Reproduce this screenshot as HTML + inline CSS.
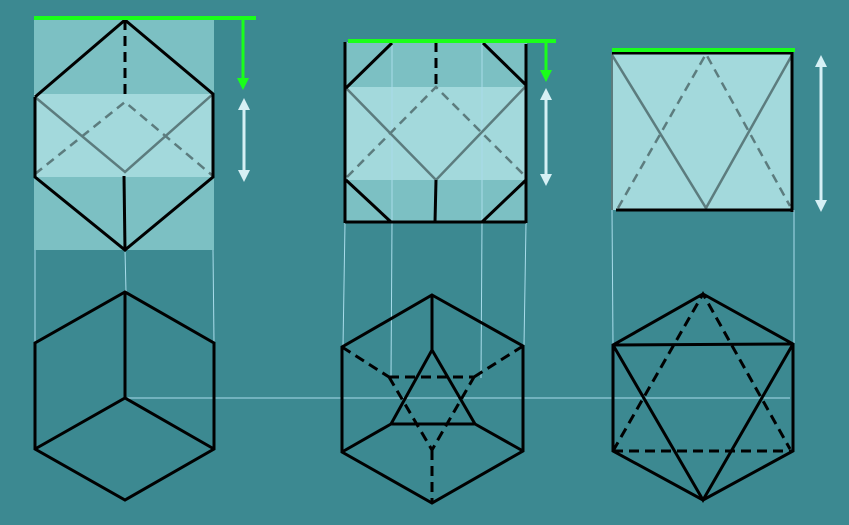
<!DOCTYPE html>
<html><head><meta charset="utf-8"><style>html,body{margin:0;padding:0;background:#3c8991;}svg{display:block}</style></head>
<body>
<svg width="849" height="525" viewBox="0 0 849 525" xmlns="http://www.w3.org/2000/svg">
<defs>
<marker id="ga" markerWidth="4" markerHeight="4" refX="2" refY="2" orient="auto" markerUnits="strokeWidth"><path d="M0,0 L4,2 L0,4 z" fill="#1aff1a"/></marker>
<marker id="wa" markerWidth="4" markerHeight="4" refX="2" refY="2" orient="auto-start-reverse" markerUnits="strokeWidth"><path d="M0,0 L4,2 L0,4 z" fill="#d6f0f5"/></marker>
</defs>
<rect width="849" height="525" fill="#3c8991"/>

<!-- projection lines -->
<g stroke="#a8dcea" stroke-width="1">
<line x1="35" y1="250" x2="35" y2="343"/><line x1="213" y1="250" x2="214" y2="343"/><line x1="125" y1="250" x2="126" y2="292"/>
<line x1="345" y1="223" x2="343" y2="347"/><line x1="392" y1="223" x2="391" y2="378"/><line x1="482" y1="223" x2="481" y2="378"/><line x1="526" y1="223" x2="524" y2="346"/>
<line x1="612" y1="210" x2="613" y2="345"/><line x1="794" y1="210" x2="794" y2="344"/>
<line x1="125" y1="398" x2="790" y2="398"/>
</g>

<!-- panel 1 -->
<g>
<rect x="34" y="18" width="180" height="232" fill="#7cc0c3"/>
<rect x="34" y="94" width="180" height="83" fill="#a3d9dc"/>
<polyline points="35,97 125,172 213,94" fill="none" stroke="#5c7c7e" stroke-width="2.5"/>
<polyline points="35,174 125,102 213,176" fill="none" stroke="#5c7c7e" stroke-width="2.5" stroke-dasharray="9,6"/>
<line x1="125" y1="20" x2="125" y2="100" stroke="#000" stroke-width="3" stroke-dasharray="10,6"/>
<polyline points="35,97 125,20 213,94 213,177 125,250 35,177 35,97" fill="none" stroke="#000" stroke-width="3"/>
<line x1="124" y1="176" x2="125" y2="250" stroke="#000" stroke-width="3"/>
<polyline points="34,18 256,18" stroke="#1aff1a" stroke-width="4" fill="none"/>
<line x1="243" y1="18" x2="243" y2="84" stroke="#1aff1a" stroke-width="3" marker-end="url(#ga)"/>
<line x1="244" y1="104" x2="244" y2="176" stroke="#d6f0f5" stroke-width="3" marker-start="url(#wa)" marker-end="url(#wa)"/>
</g>

<!-- panel 2 -->
<g>
<rect x="345" y="42" width="182" height="181" fill="#7cc0c3"/>
<rect x="345" y="87" width="182" height="93" fill="#a3d9dc"/>
<g stroke="#a8dcea" stroke-width="1"><line x1="392" y1="42" x2="392" y2="223"/><line x1="482" y1="42" x2="482" y2="223"/></g>
<polyline points="346,88 436,180 526,86" fill="none" stroke="#5c7c7e" stroke-width="2.5"/>
<polyline points="347,177 436,87 523,174" fill="none" stroke="#5c7c7e" stroke-width="2.5" stroke-dasharray="9,6"/>
<line x1="436" y1="42" x2="436" y2="87" stroke="#000" stroke-width="3" stroke-dasharray="10,6"/>
<g stroke="#000" stroke-width="3" fill="none">
<line x1="345" y1="42" x2="345" y2="223"/><line x1="526" y1="44" x2="526" y2="223"/>
<line x1="392" y1="43" x2="346" y2="88"/><line x1="483" y1="43" x2="526" y2="85"/>
<line x1="346" y1="180" x2="391" y2="222"/><line x1="526" y1="180" x2="482" y2="222"/>
<line x1="345" y1="222" x2="526" y2="222"/><line x1="436" y1="180" x2="435" y2="222"/>
</g>
<line x1="348" y1="41" x2="556" y2="41" stroke="#1aff1a" stroke-width="4"/>
<line x1="546" y1="41" x2="546" y2="76" stroke="#1aff1a" stroke-width="3" marker-end="url(#ga)"/>
<line x1="546" y1="94" x2="546" y2="180" stroke="#d6f0f5" stroke-width="3" marker-start="url(#wa)" marker-end="url(#wa)"/>
</g>

<!-- panel 3 -->
<g>
<rect x="612" y="51" width="181" height="159" fill="#a3d9dc"/>
<polyline points="612,55 706,208 792,55" fill="none" stroke="#5c7c7e" stroke-width="2.5"/>
<polyline points="618,208 706,54 790,206" fill="none" stroke="#5c7c7e" stroke-width="2.5" stroke-dasharray="9,6"/>
<line x1="612" y1="53" x2="612" y2="210" stroke="#5c7c7e" stroke-width="2"/>
<polyline points="612,53 792,53 792,212" fill="none" stroke="#000" stroke-width="3"/>
<line x1="616" y1="210" x2="793" y2="210" stroke="#000" stroke-width="3"/>
<line x1="612" y1="50" x2="795" y2="50" stroke="#1aff1a" stroke-width="4"/>
<line x1="821" y1="61" x2="821" y2="206" stroke="#d6f0f5" stroke-width="3" marker-start="url(#wa)" marker-end="url(#wa)"/>
</g>

<!-- bottom hex 1 -->
<g stroke="#000" stroke-width="3" fill="none">
<polygon points="125,292 214,343 214,449 125,500 35,449 35,343"/>
<polyline points="125,292 125,398"/><polyline points="35,449 125,398 214,449"/>
</g>

<!-- bottom hex 2 -->
<g stroke="#000" stroke-width="3" fill="none">
<polygon points="432,295 523,346 523,451 432,503 342,452 342,347"/>
<line x1="432" y1="295" x2="432" y2="350"/>
<polygon points="432,350 475,424 391,424"/>
<line x1="391" y1="424" x2="342" y2="452"/><line x1="475" y1="424" x2="523" y2="451"/>
<g stroke-dasharray="10,6">
<line x1="342" y1="347" x2="389" y2="377"/><line x1="523" y1="346" x2="474" y2="377"/>
<line x1="389" y1="377" x2="474" y2="377"/>
<polyline points="389,377 432,450 474,377"/>
<line x1="432" y1="450" x2="432" y2="503"/>
</g>
</g>

<!-- bottom hex 3 -->
<g stroke="#000" stroke-width="3" fill="none">
<polygon points="703,294 793,344 793,451 703,500 613,451 613,345"/>
<line x1="613" y1="345" x2="793" y2="344"/>
<polyline points="613,345 703,500 793,344"/>
<g stroke-dasharray="10,6">
<polyline points="613,451 703,294 790,449"/>
<line x1="613" y1="451" x2="793" y2="451"/>
</g>
</g>
</svg>
</body></html>
